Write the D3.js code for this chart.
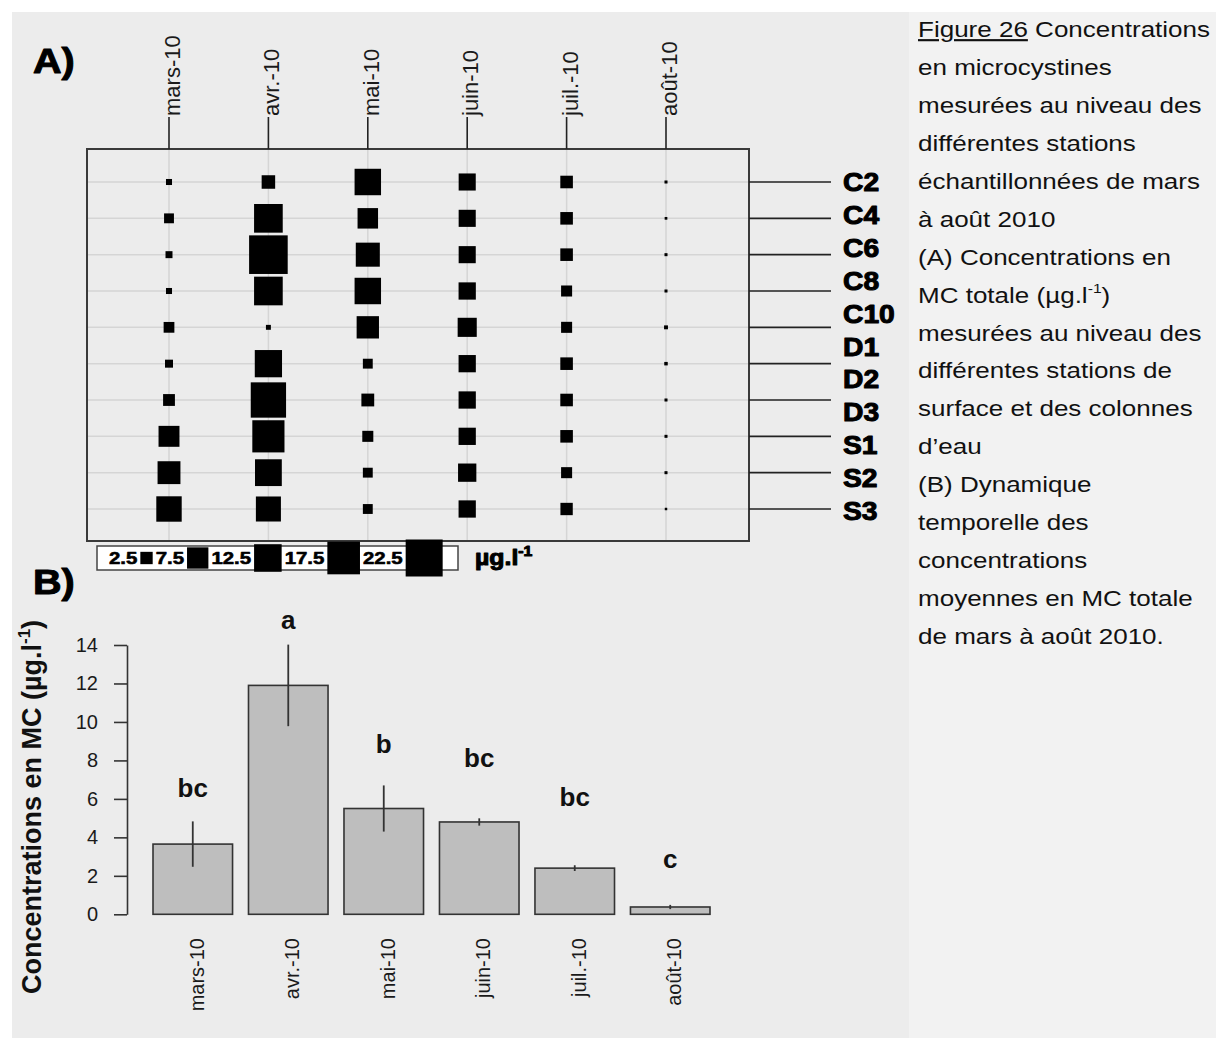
<!DOCTYPE html>
<html>
<head>
<meta charset="utf-8">
<script src="https://cdn.jsdelivr.net/npm/d3@7"></script>
<style>
  body { margin: 0; background: #ffffff; }
  svg { display: block; }
  text { font-family: "Liberation Sans", Arial, sans-serif; }
</style>
</head>
<body>
<svg id="fig" width="1216" height="1044"></svg>
<script>
// ---------- data ----------
const months = ["mars-10", "avr.-10", "mai-10", "juin-10", "juil.-10", "août-10"];
const stationLabels = ["C2", "C4", "C6", "C8", "C10", "D1", "D2", "D3", "S1", "S2", "S3"];

// Panel A: total MC (µg/l) for each sampled line, one array per month (top to bottom)
const concMars = [0.6, 1.6, 0.8, 0.6, 1.9, 1.05, 2.3, 7.2, 8.6, 10.6];
const concAvr  = [3.0, 13.5, 24.5, 13.5, 0.4, 12.2, 20.5, 17.0, 11.8, 10.3];
const concMai  = [11.5, 6.9, 9.5, 11.5, 8.2, 1.6, 2.7, 2.0, 1.6, 1.6];
const concJuin = [4.8, 4.8, 4.8, 4.9, 6.0, 4.9, 4.9, 4.9, 5.5, 4.9];
const concJuil = [2.6, 2.6, 2.6, 2.0, 2.0, 2.6, 2.6, 2.6, 2.0, 2.5];
const concAout = [0.15, 0.12, 0.15, 0.15, 0.25, 0.2, 0.15, 0.15, 0.15, 0.1];

const legendValues = [2.5, 7.5, 12.5, 17.5, 22.5];

// Panel B: mean total MC per month, error, and group letters
const meanMC = [3.65, 11.9, 5.5, 4.8, 2.4, 0.38];
const errMC = [1.18, 2.12, 1.2, 0.19, 0.15, 0.11];
const groupLetters = ["bc", "a", "b", "bc", "bc", "c"];
const letterLevel = [6.1, 14.85, 8.4, 7.65, 5.65, 2.4];
const yTicks = [0, 2, 4, 6, 8, 10, 12, 14];

const captionLines = [
  [["Figure 26", "u"], [" Concentrations"]],
  [["en microcystines"]],
  [["mesurées au niveau des"]],
  [["différentes stations"]],
  [["échantillonnées de mars"]],
  [["à août 2010"]],
  [["(A) Concentrations en"]],
  [["MC totale (µg.l"], ["-1", "sup"], [")", "back"]],
  [["mesurées au niveau des"]],
  [["différentes stations de"]],
  [["surface et des colonnes"]],
  [["d’eau"]],
  [["(B) Dynamique"]],
  [["temporelle des"]],
  [["concentrations"]],
  [["moyennes en MC totale"]],
  [["de mars à août 2010."]]
];

// ---------- setup ----------
const svg = d3.select("#fig");
const columns = [concMars, concAvr, concMai, concJuin, concJuil, concAout];
const nRows = concMars.length;
const cells = [];
columns.forEach((col, j) => col.forEach((v, i) => cells.push({ month: months[j], row: i, value: v })));

// backgrounds
svg.append("rect").attr("x", 12).attr("y", 12).attr("width", 897).attr("height", 1026).attr("fill", "#ececec");
svg.append("rect").attr("x", 909).attr("y", 12).attr("width", 307).attr("height", 1026).attr("fill", "#f2f2f2");

// heavy display text (bold, thickened and widened)
function heavyText(g, x, y, str, size, sx) {
  return g.append("text")
    .attr("transform", `translate(${x},${y}) scale(${sx},1)`)
    .attr("font-size", size).attr("font-weight", "bold")
    .attr("fill", "#000").attr("stroke", "#000").attr("stroke-width", 1)
    .attr("stroke-linejoin", "round")
    .text(str);
}

// ---------- panel A ----------
const A = svg.append("g");
const box = { x0: 87, y0: 149, x1: 749, y1: 541 };
const xCol = d3.scalePoint().domain(months).range([169, 666]);
const yRow = d3.scalePoint().domain(d3.range(nRows)).range([182, 509]);
const yLab = d3.scalePoint().domain(stationLabels).range([182, 511]);
const side = d3.scaleSqrt().domain([0, 25]).range([0, 39]);

heavyText(A, 33, 73, "A)", 35, 1.13);

// grid
A.selectAll("line.gh").data(d3.range(nRows)).join("line")
  .attr("x1", box.x0).attr("x2", box.x1)
  .attr("y1", d => yRow(d)).attr("y2", d => yRow(d))
  .attr("stroke", "#d5d5d5").attr("stroke-width", 1.5);
A.selectAll("line.gv").data(months).join("line")
  .attr("x1", d => xCol(d)).attr("x2", d => xCol(d))
  .attr("y1", box.y0).attr("y2", box.y1)
  .attr("stroke", "#d5d5d5").attr("stroke-width", 1.5);

// squares
A.selectAll("rect.cell").data(cells).join("rect")
  .attr("x", d => xCol(d.month) - side(d.value) / 2)
  .attr("y", d => yRow(d.row) - side(d.value) / 2)
  .attr("width", d => side(d.value))
  .attr("height", d => side(d.value))
  .attr("fill", "#000");

// frame
A.append("rect").attr("x", box.x0).attr("y", box.y0)
  .attr("width", box.x1 - box.x0).attr("height", box.y1 - box.y0)
  .attr("fill", "none").attr("stroke", "#3a3a3a").attr("stroke-width", 2);

// top month ticks and labels
A.selectAll("line.tt").data(months).join("line")
  .attr("x1", d => xCol(d)).attr("x2", d => xCol(d))
  .attr("y1", 117).attr("y2", box.y0)
  .attr("stroke", "#222").attr("stroke-width", 1.6);
A.selectAll("text.tm").data(months).join("text")
  .attr("transform", d => `translate(${xCol(d) + 11},116) rotate(-90)`)
  .attr("font-size", 22).attr("fill", "#1a1a1a")
  .attr("text-anchor", "start")
  .text(d => d);

// station leader lines and labels
A.selectAll("line.rl").data(d3.range(nRows)).join("line")
  .attr("x1", box.x1).attr("x2", 831)
  .attr("y1", d => yRow(d)).attr("y2", d => yRow(d))
  .attr("stroke", "#222").attr("stroke-width", 1.6);
stationLabels.forEach(s => heavyText(A, 843, yLab(s) + 9, s, 25, 1.13));

// size legend
const L = svg.append("g");
L.append("rect").attr("x", 97).attr("y", 546).attr("width", 361).attr("height", 24)
  .attr("fill", "#fff").attr("stroke", "#444").attr("stroke-width", 1.5);
let lx = 109;
legendValues.forEach(v => {
  const t = heavyText(L, lx, 564, String(v), 17, 1.2).attr("stroke-width", 0.6);
  lx += t.node().getComputedTextLength() * 1.2 + 3;
  const s = side(v);
  L.append("rect").attr("x", lx).attr("y", 558 - s / 2).attr("width", s).attr("height", s).attr("fill", "#000");
  lx += s + 3;
});
const unit = heavyText(L, 475, 565, "µg.l", 22, 1.13);
unit.append("tspan").attr("font-size", 14).attr("dy", -9).text("-1");

// ---------- panel B ----------
const B = svg.append("g");
heavyText(B, 33, 594, "B)", 35, 1.13);

const xBar = d3.scaleBand().domain(months).range([153, 710]).paddingInner(0.167).paddingOuter(0);
const yVal = d3.scaleLinear().domain([0, 14]).range([914.3, 645]);

const yAxis = B.append("g").attr("transform", "translate(127,0)")
  .call(d3.axisLeft(yVal).tickValues(yTicks).tickSize(13).tickSizeOuter(0).tickPadding(16).tickFormat(d3.format("d")));
yAxis.attr("font-size", 20).attr("font-family", "Liberation Sans, Arial, sans-serif");
yAxis.select(".domain").attr("stroke", "#333").attr("stroke-width", 1.6);
yAxis.selectAll(".tick line").attr("stroke", "#333").attr("stroke-width", 1.6);
yAxis.selectAll(".tick text").attr("fill", "#1a1a1a");

B.selectAll("rect.bar").data(months).join("rect")
  .attr("x", d => xBar(d))
  .attr("y", (d, i) => yVal(meanMC[i]))
  .attr("width", xBar.bandwidth())
  .attr("height", (d, i) => yVal(0) - yVal(meanMC[i]))
  .attr("fill", "#bebebe").attr("stroke", "#333").attr("stroke-width", 1.6);

B.selectAll("line.err").data(months).join("line")
  .attr("x1", d => xBar(d) + xBar.bandwidth() / 2)
  .attr("x2", d => xBar(d) + xBar.bandwidth() / 2)
  .attr("y1", (d, i) => yVal(meanMC[i] + errMC[i]))
  .attr("y2", (d, i) => yVal(meanMC[i] - errMC[i]))
  .attr("stroke", "#333").attr("stroke-width", 1.8);

B.selectAll("text.grp").data(months).join("text")
  .attr("x", d => xBar(d) + xBar.bandwidth() / 2)
  .attr("y", (d, i) => yVal(letterLevel[i]))
  .attr("text-anchor", "middle").attr("font-size", 26).attr("font-weight", "bold")
  .attr("fill", "#111")
  .text((d, i) => groupLetters[i]);

B.selectAll("text.xl").data(months).join("text")
  .attr("transform", d => `translate(${xBar(d) + xBar.bandwidth() / 2 + 11},938) rotate(-90)`)
  .attr("text-anchor", "end").attr("font-size", 20).attr("fill", "#1a1a1a")
  .text(d => d);

const yTitle = B.append("text")
  .attr("transform", "translate(41,807) rotate(-90)")
  .attr("text-anchor", "middle").attr("font-size", 27).attr("font-weight", "bold")
  .attr("fill", "#111");
yTitle.append("tspan").text("Concentrations en MC (µg.l");
yTitle.append("tspan").attr("font-size", 17).attr("dy", -11).text("-1");
yTitle.append("tspan").attr("dy", 11).text(")");

// ---------- caption ----------
const C = svg.append("g");
captionLines.forEach((parts, i) => {
  const t = C.append("text")
    .attr("transform", `translate(918,${37.3 + 37.9 * i}) scale(1.21,1)`)
    .attr("font-size", 21.5).attr("fill", "#111");
  parts.forEach(([str, kind]) => {
    const ts = t.append("tspan").text(str);
    if (kind === "u") ts.attr("text-decoration", "underline");
    if (kind === "sup") ts.attr("font-size", 13).attr("dy", -10);
    if (kind === "back") ts.attr("dy", 10);
  });
});
</script>
</body>
</html>
